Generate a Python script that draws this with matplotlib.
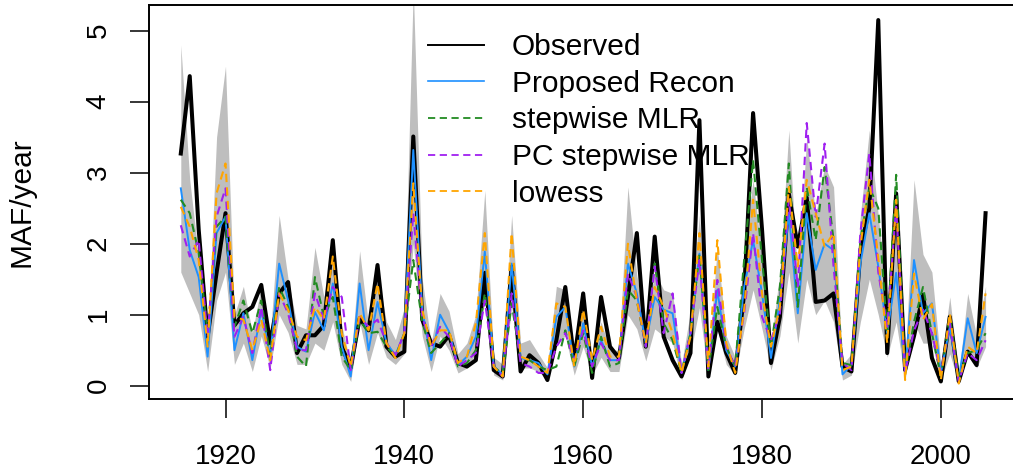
import numpy as np
import matplotlib.pyplot as plt
from matplotlib.lines import Line2D

# water years
years = np.arange(1915, 2006)

# observed flow (MAF/year)
observed = [3.27, 4.36, 2.20, 0.69, 1.59,
            2.43, 0.85, 1.02, 1.11, 1.42, 0.60, 1.30, 1.46, 0.46, 0.71,
            0.71, 0.85, 2.05, 0.55, 0.25, 0.95, 0.78, 1.70, 0.55, 0.41,
            0.48, 3.51, 0.93, 0.60, 0.55, 0.71, 0.32, 0.27, 0.36, 1.59,
            0.22, 0.13, 1.68, 0.20, 0.43, 0.32, 0.08, 0.64, 1.39, 0.36,
            1.30, 0.11, 1.25, 0.55, 0.39, 1.25, 2.15, 0.55, 2.10, 0.69,
            0.36, 0.13, 0.46, 3.74, 0.13, 0.90, 0.46, 0.18, 1.30, 3.84,
            2.20, 0.32, 0.97, 2.70, 1.96, 2.65, 1.18, 1.20, 1.30, 0.27,
            0.20, 1.90, 2.50, 5.15, 0.46, 2.71, 0.22, 0.70, 1.28, 0.39,
            0.06, 0.97, 0.06, 0.48, 0.29, 2.43]

# proposed reconstruction
proposed = [2.78, 1.91, 1.53, 0.41, 2.15,
            2.38, 0.50, 1.02, 0.36, 1.07, 0.41, 1.72, 1.20, 0.55, 0.48,
            1.04, 0.78, 1.44, 0.55, 0.13, 1.44, 0.50, 1.18, 0.60, 0.43,
            0.74, 3.32, 1.07, 0.36, 1.00, 0.76, 0.29, 0.41, 0.69, 1.89,
            0.27, 0.16, 1.72, 0.39, 0.36, 0.32, 0.16, 0.97, 1.11, 0.27,
            0.88, 0.27, 0.64, 0.36, 0.36, 1.72, 1.30, 0.60, 1.25, 1.07,
            1.02, 0.18, 0.74, 1.86, 0.22, 1.35, 0.50, 0.27, 1.39, 2.05,
            1.30, 0.39, 1.20, 2.43, 1.02, 2.43, 1.63, 2.00, 1.91, 0.16,
            0.29, 1.72, 2.43, 1.68, 0.74, 1.59, 0.18, 1.77, 1.02, 1.16,
            0.18, 0.83, 0.08, 0.95, 0.46, 0.97]

# uncertainty band around the proposed recon
band_upper = [4.80, 2.90, 1.80, 0.60, 3.50,
              4.50, 1.00, 1.40, 0.75, 1.40, 0.70, 2.40, 1.50, 0.85, 0.80,
              1.95, 1.25, 1.90, 0.85, 0.30, 1.90, 0.85, 1.60, 0.90, 0.65,
              1.10, 5.60, 1.50, 0.60, 1.30, 1.05, 0.45, 0.60, 1.00, 2.75,
              0.40, 0.30, 2.40, 0.60, 0.65, 0.45, 0.25, 1.40, 1.35, 0.40,
              1.20, 0.45, 0.90, 0.50, 0.50, 2.80, 1.55, 0.85, 1.60, 1.35,
              1.30, 0.30, 1.05, 2.40, 0.35, 1.95, 0.70, 0.40, 1.90, 2.90,
              1.80, 0.60, 1.60, 3.60, 1.50, 3.50, 2.40, 3.10, 2.80, 0.30,
              0.45, 2.40, 3.60, 2.40, 1.15, 2.40, 0.30, 2.90, 1.85, 1.60,
              0.30, 1.25, 0.15, 1.30, 0.70, 1.40]
band_lower = [1.60, 1.30, 1.00, 0.20, 1.20,
              1.60, 0.30, 0.60, 0.20, 0.70, 0.25, 1.00, 0.75, 0.30, 0.30,
              0.60, 0.50, 0.90, 0.30, 0.06, 0.90, 0.30, 0.75, 0.40, 0.30,
              0.45, 2.00, 0.70, 0.20, 0.70, 0.50, 0.18, 0.25, 0.45, 1.20,
              0.15, 0.08, 1.10, 0.25, 0.25, 0.20, 0.08, 0.60, 0.70, 0.15,
              0.55, 0.15, 0.40, 0.20, 0.20, 1.00, 0.80, 0.35, 0.80, 0.70,
              0.60, 0.08, 0.45, 1.10, 0.10, 0.80, 0.30, 0.15, 0.80, 1.35,
              0.80, 0.22, 0.70, 1.60, 0.60, 1.50, 1.00, 1.20, 0.90, 0.08,
              0.15, 0.90, 1.50, 1.00, 0.40, 0.90, 0.08, 0.90, 0.60, 0.60,
              0.08, 0.45, 0.03, 0.50, 0.25, 0.55]

stepwise = [2.62, 2.43, 1.87, 0.74, 2.24,
            2.38, 0.83, 1.20, 0.74, 1.20, 0.41, 1.39, 1.11, 0.41, 0.27,
            1.53, 0.97, 1.25, 0.41, 0.22, 0.93, 0.74, 0.76, 0.55, 0.41,
            0.74, 1.77, 0.90, 0.46, 0.60, 0.74, 0.27, 0.32, 0.50, 1.30,
            0.27, 0.16, 1.16, 0.36, 0.36, 0.27, 0.22, 0.27, 0.78, 0.27,
            0.74, 0.18, 0.69, 0.27, 0.32, 1.35, 1.20, 0.55, 1.72, 0.88,
            0.64, 0.18, 0.74, 1.86, 0.22, 1.11, 0.55, 0.27, 1.77, 3.18,
            1.77, 0.55, 1.39, 3.13, 1.11, 2.80, 2.05, 3.08, 2.05, 0.32,
            0.29, 2.05, 2.80, 2.50, 0.74, 2.97, 0.18, 0.90, 1.39, 0.74,
            0.13, 0.97, 0.13, 0.46, 0.50, 0.74]

pc_stepwise = [2.26, 1.82, 2.05, 0.69, 2.38,
               2.78, 0.69, 0.97, 0.46, 1.11, 0.22, 1.30, 1.02, 0.50, 0.50,
               1.30, 0.93, 1.39, 1.25, 0.22, 0.97, 0.83, 0.93, 0.60, 0.43,
               0.74, 2.43, 0.97, 0.55, 0.83, 0.69, 0.27, 0.36, 0.46, 1.20,
               0.27, 0.13, 1.30, 0.32, 0.27, 0.18, 0.18, 0.55, 0.74, 0.36,
               0.78, 0.27, 0.60, 0.36, 0.36, 1.58, 1.25, 0.55, 1.68, 0.74,
               1.30, 0.18, 0.74, 1.77, 0.22, 1.49, 0.55, 0.27, 1.02, 2.15,
               0.97, 0.64, 1.02, 2.62, 1.39, 3.70, 2.38, 3.41, 1.68, 0.32,
               0.22, 2.15, 3.27, 1.60, 0.83, 2.52, 0.18, 0.78, 1.07, 0.74,
               0.18, 0.88, 0.06, 0.46, 0.36, 0.64]

lowess = [2.52, 2.24, 1.77, 0.55, 2.71,
          3.13, 0.97, 0.93, 0.50, 0.93, 0.36, 1.30, 1.07, 0.69, 0.64,
          1.11, 0.93, 1.82, 0.74, 0.27, 1.02, 0.78, 1.44, 0.60, 0.39,
          0.74, 2.85, 1.07, 0.55, 0.78, 0.78, 0.32, 0.41, 0.88, 2.15,
          0.27, 0.13, 2.15, 0.41, 0.36, 0.27, 0.18, 1.16, 1.11, 0.27,
          1.07, 0.36, 0.83, 0.41, 0.41, 2.00, 1.20, 0.60, 1.39, 1.11,
          0.74, 0.18, 0.69, 2.15, 0.27, 2.05, 0.60, 0.18, 1.07, 2.62,
          1.30, 0.55, 1.11, 2.80, 1.68, 2.90, 2.43, 1.96, 2.15, 0.22,
          0.27, 1.96, 2.90, 1.80, 0.60, 2.62, 0.08, 1.58, 0.93, 1.15,
          0.08, 1.02, 0.03, 0.55, 0.46, 1.30]

plt.rcParams['font.family'] = ['Liberation Sans', 'DejaVu Sans']

fig = plt.figure(figsize=(10.13, 4.73), dpi=100)
ax = fig.add_axes([0.1467, 0.1554, 0.858, 0.833])

ax.fill_between(years, band_lower, band_upper, color='#BEBEBE', lw=0)
ax.plot(years, observed, color='black', lw=2.9, solid_joinstyle='round')
ax.plot(years, proposed, color='#1E90FF', lw=1.4)
ax.plot(years, stepwise, color='#228B22', lw=1.5, dashes=(4, 2.5))
ax.plot(years, pc_stepwise, color='#A020F0', lw=1.5, dashes=(4, 2.5))
ax.plot(years, lowess, color='#FFA500', lw=1.5, dashes=(4, 2.5))

ax.set_xlim(1911.4, 2008.6)
ax.set_ylim(-0.194, 5.355)
ax.set_xticks([1920, 1940, 1960, 1980, 2000])
ax.set_yticks([0, 1, 2, 3, 4, 5])
ax.tick_params(axis='both', length=13.7, width=1.1, labelsize=20)
ax.tick_params(axis='x', pad=18.5)
ax.tick_params(axis='y', pad=13)
for lab in ax.get_yticklabels():
    lab.set_rotation(90)
    lab.set_va('center')
for sp in ax.spines.values():
    sp.set_linewidth(1.4)

fig.text(22 / 1013, 1 - 202 / 473, 'MAF/year', rotation=90,
         ha='center', va='center', fontsize=21.5)

handles = [
    Line2D([], [], color='black', lw=1.4),
    Line2D([], [], color='#1E90FF', lw=1.2),
    Line2D([], [], color='#228B22', lw=1.3, dashes=(4, 2.5)),
    Line2D([], [], color='#A020F0', lw=1.3, dashes=(4, 2.5)),
    Line2D([], [], color='#FFA500', lw=1.3, dashes=(4, 2.5)),
]
labels = ['Observed', 'Proposed Recon', 'stepwise MLR',
          'PC stepwise MLR', 'lowess']
ax.legend(handles, labels, loc='upper left', frameon=False,
          bbox_to_anchor=(428 / 1013, 1 - 33 / 473),
          bbox_transform=fig.transFigure, fontsize=21.5,
          handlelength=1.87, handletextpad=0.94, labelspacing=0.29,
          borderpad=0, borderaxespad=0)

fig.savefig('out.png', dpi=100)
